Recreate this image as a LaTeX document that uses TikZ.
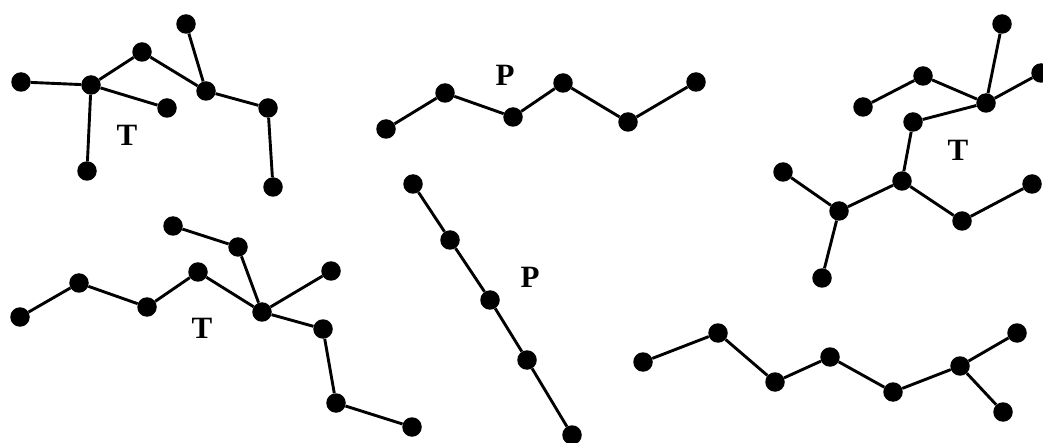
\documentclass[tikz,border=0pt]{standalone}
\usepackage{fontspec}
\setmainfont{Liberation Serif}
\begin{document}
\begin{tikzpicture}[x=1pt,y=-1pt,
  dot/.style={circle,fill=black,inner sep=0pt,minimum size=19.5pt},
  lbl/.style={font=\fontsize{31}{32}\selectfont\bfseries},
  edge/.style={line width=2.9pt}]
\useasboundingbox (0,0) rectangle (1043,443);
\clip (0,0) rectangle (1043,443);
% Tree top-left
\node[dot] (a1) at (21,82) {};
\node[dot] (a2) at (91,85) {};
\node[dot] (a3) at (142,52) {};
\node[dot] (a4) at (186,24) {};
\node[dot] (a5) at (206,91) {};
\node[dot] (a6) at (167,108) {};
\node[dot] (a7) at (87,171) {};
\node[dot] (a8) at (268,108) {};
\node[dot] (a9) at (273,187) {};
\node[lbl] (ta) at (127,135) {T};
\draw[edge] (a1)--(a2) (a2)--(a3) (a3)--(a5) (a4)--(a5) (a5)--(a8) (a8)--(a9) (a2)--(a6) (a2)--(a7);
% Tree bottom-left
\node[dot] (b1) at (20,317) {};
\node[dot] (b2) at (79,283) {};
\node[dot] (b3) at (147,307) {};
\node[dot] (b4) at (198,272) {};
\node[dot] (b5) at (262,312) {};
\node[dot] (b6) at (173,226) {};
\node[dot] (b7) at (238,247) {};
\node[dot] (b8) at (331,271) {};
\node[dot] (b9) at (323,329) {};
\node[dot] (b10) at (336,403) {};
\node[dot] (b11) at (412,427) {};
\node[lbl] (tb) at (202,328) {T};
\draw[edge] (b1)--(b2) (b2)--(b3) (b3)--(b4) (b4)--(b5) (b6)--(b7) (b7)--(b5) (b5)--(b8) (b5)--(b9) (b9)--(b10) (b10)--(b11);
% Path top middle
\node[dot] (c1) at (386,129) {};
\node[dot] (c2) at (445,93) {};
\node[dot] (c3) at (513,117) {};
\node[dot] (c4) at (563,83) {};
\node[dot] (c5) at (628,122) {};
\node[dot] (c6) at (696,82) {};
\node[lbl] (pc) at (505,75) {P};
\draw[edge] (c1)--(c2) (c2)--(c3) (c3)--(c4) (c4)--(c5) (c5)--(c6);
% Path diagonal
\node[dot] (d1) at (413,184) {};
\node[dot] (d2) at (450,240) {};
\node[dot] (d3) at (490,300) {};
\node[dot] (d4) at (527,360) {};
\node[dot] (d5) at (572,435) {};
\node[lbl] (pd) at (530,277) {P};
\draw[edge] (d1)--(d2) (d2)--(d3) (d3)--(d4) (d4)--(d5);
% Tree right
\node[dot] (e1) at (1002,24) {};
\node[dot] (e2) at (986,103) {};
\node[dot] (e3) at (923,76) {};
\node[dot] (e4) at (863,107) {};
\node[dot] (e5) at (1041,73) {};
\node[dot] (e6) at (913,122) {};
\node[dot] (e7) at (902,181) {};
\node[dot] (e8) at (783,172) {};
\node[dot] (e9) at (839,211) {};
\node[dot] (e10) at (822,278) {};
\node[dot] (e11) at (962,221) {};
\node[dot] (e12) at (1032,184) {};
\node[lbl] (te) at (958,150) {T};
\draw[edge] (e4)--(e3) (e3)--(e2) (e1)--(e2) (e2)--(e5) (e2)--(e6) (e6)--(e7) (e7)--(e9) (e8)--(e9) (e9)--(e10) (e7)--(e11) (e11)--(e12);
% Tree bottom-right
\node[dot] (f1) at (643,362) {};
\node[dot] (f2) at (718,333) {};
\node[dot] (f3) at (775,382) {};
\node[dot] (f4) at (830,357) {};
\node[dot] (f5) at (893,392) {};
\node[dot] (f6) at (960,366) {};
\node[dot] (f7) at (1017,333) {};
\node[dot] (f8) at (1003,412) {};
\draw[edge] (f1)--(f2) (f2)--(f3) (f3)--(f4) (f4)--(f5) (f5)--(f6) (f6)--(f7) (f6)--(f8);
\end{tikzpicture}
\end{document}
